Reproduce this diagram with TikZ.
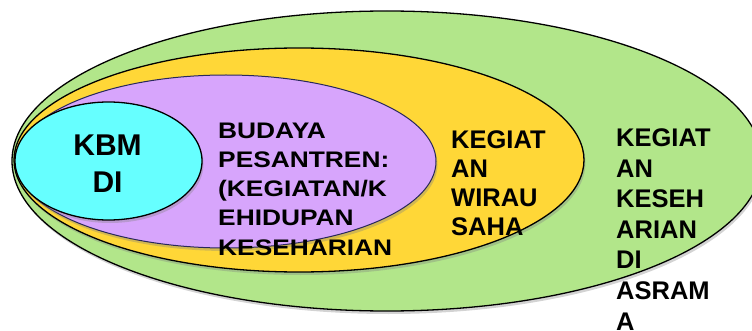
\documentclass[tikz,border=0pt]{standalone}
\usepackage{fontspec}
\setmainfont{Liberation Sans}
\newfontfamily\widefont{Liberation Sans}[FakeStretch=1.17]
\usetikzlibrary{shadows}
\definecolor{outergreen}{RGB}{178,230,138}
\definecolor{midyellow}{RGB}{255,215,55}
\definecolor{innerpurple}{RGB}{215,165,252}
\definecolor{corecyan}{RGB}{102,255,255}
\definecolor{navyline}{RGB}{40,40,90}
\begin{document}
\begin{tikzpicture}[x=1pt,y=-1pt,
  ring/.style={draw=black, line width=1.3pt,
    drop shadow={shadow xshift=1.5pt, shadow yshift=-3pt, opacity=0.35}},
  lbl/.style={inner sep=0pt, anchor=base west, align=left, text=black}]
\useasboundingbox (0,0) rectangle (752,331);
\clip (0,0) rectangle (752,331);
% nested ellipses
\path[ring, fill=outergreen] (387,161) ellipse [x radius=375pt, y radius=150pt];
\path[ring, fill=midyellow] (299,160) ellipse [x radius=285pt, y radius=112pt];
\path[ring, fill=innerpurple, draw=navyline, line width=1pt] (226,161.5) ellipse [x radius=210pt, y radius=86.5pt];
\path[ring, fill=corecyan] (108.5,161) ellipse [x radius=93.5pt, y radius=59pt];
% texts (anchor = baseline of the last line)
\node[lbl, anchor=base, align=center, font=\bfseries\fontsize{30}{36.7}\selectfont] (kbm) at (107.5,192.7) {KBM\\DI};
\node[lbl, font=\widefont\bfseries\fontsize{22.5}{29.2}\selectfont] (budaya) at (218,255)
  {BUDAYA\\PESANTREN:\\(KEGIATAN/K\\EHIDUPAN\\KESEHARIAN};
\node[lbl, font=\bfseries\fontsize{25.5}{29.1}\selectfont] (wirausaha) at (451,235.7)
  {KEGIAT\\AN\\WIRAU\\SAHA};
\node[lbl, font=\bfseries\fontsize{25.5}{30.55}\selectfont] (asrama) at (616,330)
  {KEGIAT\\AN\\KESEH\\ARIAN\\DI\\ASRAM\\A};
\end{tikzpicture}
\end{document}
